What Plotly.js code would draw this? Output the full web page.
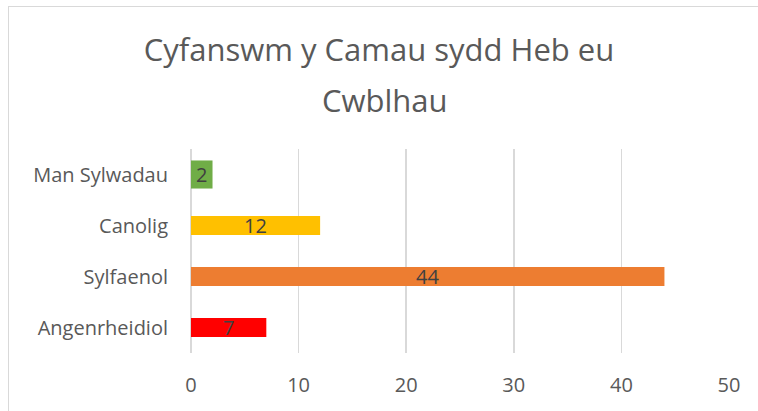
<!DOCTYPE html>
<html>
<head>
<meta charset="utf-8">
<script src="https://cdn.plot.ly/plotly-3.0.1.min.js"></script>
<style>
html,body{margin:0;padding:0;background:#fff;}
#wrap{position:relative;width:758px;height:411px;overflow:hidden;}
#frame{position:absolute;left:8px;top:6px;width:780px;height:440px;border:1.5px solid #d9d9d9;box-sizing:border-box;}
#chart{position:absolute;left:0;top:0;width:758px;height:411px;}
</style>
</head>
<body>
<div id="wrap"><div id="frame"></div><div id="chart"></div></div>
<script>
const categories = ["Angenrheidiol", "Sylfaenol", "Canolig", "Man Sylwadau"];
const values = [7, 44, 12, 2];
const colors = ["#ff0000", "#ed7d31", "#ffc000", "#70ad47"];
const tickValues = [0, 10, 20, 30, 40, 50];
const titleLines = ["Cyfanswm y Camau sydd Heb eu", "Cwblhau"];

const titleFont = {family: "Open Sans, sans-serif", size: 31, color: "#595959"};

const trace = {
  type: "bar",
  orientation: "h",
  y: categories,
  x: values,
  marker: {color: colors, line: {width: 0}},
  width: [0.37, 0.37, 0.37, 0.55],
  text: values.map(String),
  textposition: "inside",
  insidetextanchor: "middle",
  textangle: 0,
  textfont: {family: "Open Sans, sans-serif", size: 20, color: "#404040"},
  hoverinfo: "none",
  cliponaxis: false
};

const layout = {
  width: 758, height: 411,
  paper_bgcolor: "rgba(0,0,0,0)",
  plot_bgcolor: "rgba(0,0,0,0)",
  margin: {l: 191, r: 29, t: 149, b: 58, pad: 0},
  showlegend: false,
  uniformtext: {mode: "show", minsize: 20},
  title: {
    text: titleLines[0],
    font: titleFont,
    x: 0.5, xanchor: "center",
    yref: "container",
    y: 1 - 50 / 411, yanchor: "middle"
  },
  annotations: [{
    text: titleLines[1],
    font: titleFont,
    xref: "paper", yref: "paper",
    x: 0.36, xanchor: "center",
    y: (253) / 204, yanchor: "middle",
    showarrow: false
  }],
  xaxis: {
    range: [0, 50],
    tickvals: tickValues,
    ticktext: tickValues.map(String),
    showgrid: true, gridcolor: "#d9d9d9", gridwidth: 1.5,
    zeroline: true, zerolinecolor: "#d9d9d9", zerolinewidth: 1.5,
    showline: false, ticks: "",
    tickfont: {family: "Open Sans, sans-serif", size: 20, color: "#595959"},
    ticklabelstandoff: 18,
    fixedrange: true
  },
  yaxis: {
    categoryorder: "array", categoryarray: categories,
    showgrid: false, zeroline: false, showline: false, ticks: "",
    tickfont: {family: "Open Sans, sans-serif", size: 20, color: "#595959"},
    ticklabelstandoff: 22,
    fixedrange: true
  }
};

Plotly.newPlot("chart", [trace], layout, {displayModeBar: false, staticPlot: true});
</script>
</body>
</html>
